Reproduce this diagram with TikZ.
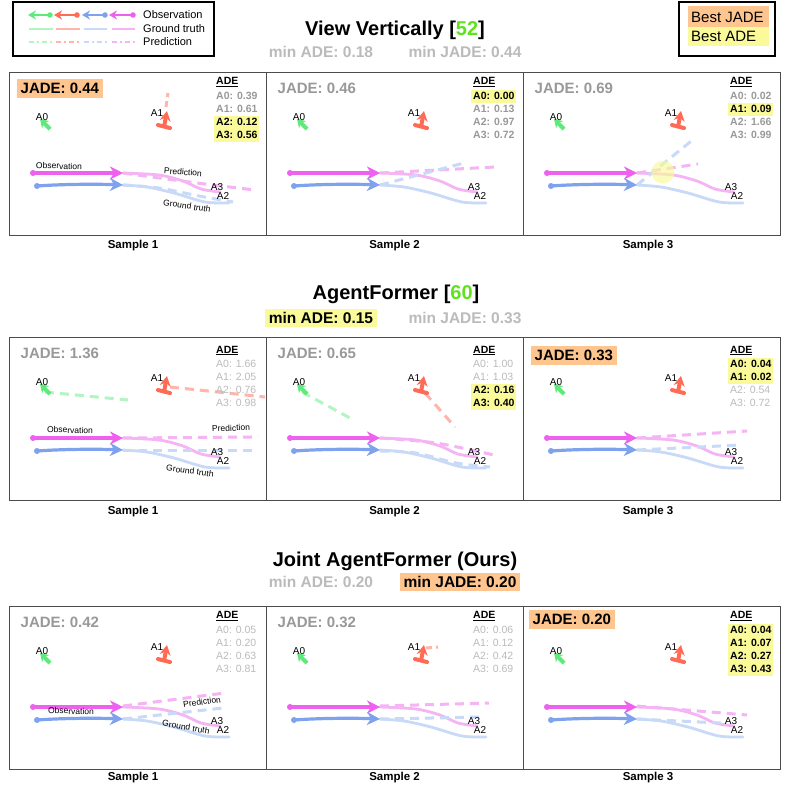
\documentclass[tikz,border=0pt]{standalone}
\usepackage{fontspec}
\setmainfont{Liberation Sans}
\usetikzlibrary{arrows.meta}
\definecolor{gObs}{HTML}{5EEA7A}
\definecolor{gLt}{HTML}{B3F5C0}
\definecolor{rObs}{HTML}{FF6B55}
\definecolor{rLt}{HTML}{FFB5AA}
\definecolor{bObs}{HTML}{7FA2EE}
\definecolor{bLt}{HTML}{C8DAF7}
\definecolor{mObs}{HTML}{EE60EE}
\definecolor{mLt}{HTML}{F5B5F5}
\definecolor{hlY}{HTML}{FAFA9A}
\definecolor{hlO}{HTML}{FFC58F}
\definecolor{txG}{HTML}{999999}
\definecolor{txL}{HTML}{BBBBBB}
\definecolor{numG}{HTML}{5EE31E}
\tikzset{
 frame/.style={draw=black!70, line width=1pt},
 obsline/.style={line width=3.2pt, -{Stealth[length=13pt,width=13pt,inset=4pt]}},
 gtline/.style={line width=2.8pt, line cap=round},
 prline/.style={line width=3pt, dash pattern=on 9pt off 6pt},
 jadebox/.style={anchor=west, font=\fontsize{15}{15}\selectfont\bfseries, inner xsep=3.5pt, inner ysep=2.5pt, minimum height=19pt},
 adetxt/.style={anchor=west, font=\fontsize{10.5}{10.5}\selectfont\bfseries, inner sep=0pt},
 adegray/.style={anchor=west, font=\fontsize{10.5}{10.5}\selectfont, inner sep=0pt},
 aglabel/.style={font=\fontsize{10}{10}\selectfont, inner sep=0pt},
 smalltxt/.style={font=\fontsize{8.5}{8.5}\selectfont, inner sep=0pt},
 samplelbl/.style={font=\fontsize{11.5}{11.5}\selectfont\bfseries},
 titletxt/.style={font=\fontsize{20}{20}\selectfont\bfseries},
 subtxt/.style={font=\fontsize{15.5}{15.5}\selectfont\bfseries, inner xsep=4pt, inner ysep=3pt},
 legtxt/.style={anchor=west, font=\fontsize{11}{11}\selectfont, inner sep=0pt},
 legobs/.style={line width=2.2pt, {Stealth[length=8pt,width=9pt]}-},
 leggt/.style={line width=2.2pt},
 legpr/.style={line width=2.2pt, dash pattern=on 5pt off 3pt on 2pt off 3pt},
}
% base panel: frame + ground truth
\newcommand\basepanel[1]{%
 \draw[frame] (0,0) rectangle (257,163);
 \draw[gtline, mLt] plot[smooth] coordinates {(114,101) (150,103) (174,109) (192,117) (211,120)};
 \draw[gtline, bLt] plot[smooth] coordinates {(114,113) (138,115) (165,121) (196,130) (220,131)};
}
% observations, agents and labels
\newcommand\obspanel[1]{%
 \draw[obsline, mObs] (24,101) -- (114,101);
 \fill[mObs] (24,101) circle (3);
 \draw[obsline, bObs] (28,114) .. controls (55,112) and (90,112) .. (114,113);
 \fill[bObs] (28,114) circle (3);
 \draw[line width=4pt, gObs, -{Stealth[length=8pt,width=10pt]}] (41,57) -- (31,47);
 \draw[line width=4pt, rObs, -{Stealth[length=10pt,width=11pt]}] (155,55) -- (158,39);
 \draw[line width=4pt, rObs, line cap=round] (149,53) -- (161,56);
 \node[aglabel] (#1-A0) at (33,45) {A0};
 \node[aglabel] (#1-A1) at (148,41) {A1};
 \node[aglabel] (#1-A3) at (208,115) {A3};
 \node[aglabel] (#1-A2) at (214,124) {A2};
}
\newcommand\adehead[2]{\node[adetxt] (#1-ade) at (207,#2) {\underline{ADE}};}
\newcommand\legarrow[3]{\draw[legobs, #1] (#2,15) -- (#3,15); \fill[#1] (#3,15) circle (2.8);}
\begin{document}
\begin{tikzpicture}[x=1pt,y=-1pt]
\useasboundingbox (0,0) rectangle (789,788);
\fill[white] (0,0) rectangle (789,788);
% ---------- legends ----------
\draw[line width=2.5pt] (13,2) rectangle (214,56);
\legarrow{gObs}{28}{50}
\legarrow{rObs}{54}{77}
\legarrow{bObs}{82}{105}
\legarrow{mObs}{109}{133}
\draw[leggt, gLt] (29,29) -- (53,29);
\draw[leggt, rLt] (56,29) -- (80,29);
\draw[leggt, bLt] (84,29) -- (107,29);
\draw[leggt, mLt] (112,29) -- (135,29);
\draw[legpr, gLt] (29,42) -- (53,42);
\draw[legpr, rLt] (56,42) -- (80,42);
\draw[legpr, bLt] (84,42) -- (107,42);
\draw[legpr, mLt] (112,42) -- (135,42);
\node[legtxt] (lobs) at (143,15) {Observation};
\node[legtxt] (lgt) at (143,29) {Ground truth};
\node[legtxt] (lpr) at (143,42) {Prediction};
\draw[line width=2.5pt] (679,2) rectangle (775,56);
\fill[hlO] (688,6) rectangle (769,27);
\fill[hlY] (688,27) rectangle (769,46);
\node[anchor=west, font=\fontsize{15}{15}\selectfont, inner sep=0pt] (lbj) at (691,17) {Best JADE};
\node[anchor=west, font=\fontsize{15}{15}\selectfont, inner sep=0pt] (lba) at (691,36.5) {Best ADE};
% ---------- titles ----------
\node[titletxt] (t1) at (395,30) {View Vertically [\textcolor{numG}{52}]};
\node[subtxt, txL] (t1a) at (321,52) {min ADE: 0.18};
\node[subtxt, txL] (t1b) at (465,52) {min JADE: 0.44};
\node[titletxt] (t2) at (396,294) {AgentFormer [\textcolor{numG}{60}]};
\node[subtxt, fill=hlY] (t2a) at (321,318) {min ADE: 0.15};
\node[subtxt, txL] (t2b) at (465,318) {min JADE: 0.33};
\node[titletxt] (t3) at (395,561) {Joint AgentFormer (Ours)};
\node[subtxt, txL] (t3a) at (321,582) {min ADE: 0.20};
\node[subtxt, fill=hlO] (t3b) at (460,582) {min JADE: 0.20};
% ================= ROW 1 =================
\begin{scope}[shift={(9,72)}]
 \basepanel{r1a}
 \draw[prline, mLt] plot[smooth] coordinates {(114,101) (188,111) (246,118)};
 \draw[prline, bLt] plot[smooth] coordinates {(114,113) (150,116) (190,124) (224,130)};
 \draw[prline, rLt, dash pattern=on 6pt off 4pt] (157,35) -- (159,21);
 \obspanel{r1a}
 \node[smalltxt, rotate=-2] (r1a-o) at (50,94) {Observation};
 \node[smalltxt, rotate=-4] (r1a-p) at (174,100) {Prediction};
 \node[smalltxt, rotate=-9] (r1a-g) at (178,134) {Ground truth};
 \node[jadebox, fill=hlO] (r1a-jade) at (8,16) {JADE: 0.44};
 \fill[hlY] (205,43.5) rectangle (250,69.5);
 \adehead{r1a}{10}
 \node[adetxt, txG] (r1a-0) at (207,24) {A0: 0.39};
 \node[adetxt, txG] (r1a-1) at (207,37) {A1: 0.61};
 \node[adetxt] (r1a-2) at (207,50) {A2: 0.12};
 \node[adetxt] (r1a-3) at (207,63) {A3: 0.56};
 \node[samplelbl] (r1a-s) at (124,174) {Sample 1};
\end{scope}
\begin{scope}[shift={(266,72)}]
 \basepanel{r1b}
 \draw[prline, mLt] (114,101) -- (229,95);
 \draw[prline, bLt] (114,113) -- (198,91);
 \obspanel{r1b}
 \node[jadebox, txG] (r1b-jade) at (8,16) {JADE: 0.46};
 \fill[hlY] (205,17.5) rectangle (250,30.5);
 \adehead{r1b}{10}
 \node[adetxt] (r1b-0) at (207,24) {A0: 0.00};
 \node[adetxt, txG] (r1b-1) at (207,37) {A1: 0.13};
 \node[adetxt, txG] (r1b-2) at (207,50) {A2: 0.97};
 \node[adetxt, txG] (r1b-3) at (207,63) {A3: 0.72};
 \node[samplelbl] (r1b-s) at (128.5,174) {Sample 2};
\end{scope}
\begin{scope}[shift={(523,72)}]
 \basepanel{r1c}
 \draw[prline, mLt] (114,101) -- (175,92);
 \draw[prline, bLt] (114,113) -- (172,66);
 \fill[hlY, opacity=0.65] (140,100) circle (11.5);
 \obspanel{r1c}
 \node[jadebox, txG] (r1c-jade) at (8,16) {JADE: 0.69};
 \fill[hlY] (205,30.5) rectangle (250,43.5);
 \adehead{r1c}{10}
 \node[adetxt, txG] (r1c-0) at (207,24) {A0: 0.02};
 \node[adetxt] (r1c-1) at (207,37) {A1: 0.09};
 \node[adetxt, txG] (r1c-2) at (207,50) {A2: 1.66};
 \node[adetxt, txG] (r1c-3) at (207,63) {A3: 0.99};
 \node[samplelbl] (r1c-s) at (125,174) {Sample 3};
\end{scope}
% ================= ROW 2 =================
\begin{scope}[shift={(9,337)}]
 \basepanel{r2a}
 \draw[prline, gLt] (36,55) -- (119,63);
 \draw[prline, rLt] (161,50) -- (256,60);
 \draw[prline, mLt] (114,101) -- (249,100);
 \draw[prline, bLt] (114,113) -- (246,113);
 \obspanel{r2a}
 \node[smalltxt, rotate=-1] (r2a-o) at (61,93) {Observation};
 \node[smalltxt, rotate=2] (r2a-p) at (222,91) {Prediction};
 \node[smalltxt, rotate=-8] (r2a-g) at (181,134) {Ground truth};
 \node[jadebox, txG] (r2a-jade) at (8,16) {JADE: 1.36};
 \adehead{r2a}{13.5}
 \node[adegray, txL] (r2a-0) at (207,27) {A0: 1.66};
 \node[adegray, txL] (r2a-1) at (207,40) {A1: 2.05};
 \node[adegray, txL] (r2a-2) at (207,53) {A2: 0.76};
 \node[adegray, txL] (r2a-3) at (207,66) {A3: 0.98};
 \node[samplelbl] (r2a-s) at (124,175) {Sample 1};
\end{scope}
\begin{scope}[shift={(266,337)}]
 \basepanel{r2b}
 \draw[prline, gLt] (36,55) -- (84,81);
 \draw[prline, rLt] (159,56) -- (189,90);
 \draw[prline, mLt] plot[smooth] coordinates {(114,101) (170,106) (228,118)};
 \draw[prline, bLt] plot[smooth] coordinates {(114,114) (150,116) (190,126) (224,130)};
 \obspanel{r2b}
 \node[jadebox, txG] (r2b-jade) at (8,16) {JADE: 0.65};
 \fill[hlY] (205,46.5) rectangle (250,72.5);
 \adehead{r2b}{13.5}
 \node[adegray, txL] (r2b-0) at (207,27) {A0: 1.00};
 \node[adegray, txL] (r2b-1) at (207,40) {A1: 1.03};
 \node[adetxt] (r2b-2) at (207,53) {A2: 0.16};
 \node[adetxt] (r2b-3) at (207,66) {A3: 0.40};
 \node[samplelbl] (r2b-s) at (128.5,175) {Sample 2};
\end{scope}
\begin{scope}[shift={(523,337)}]
 \basepanel{r2c}
 \draw[prline, mLt] (114,101) -- (224,94);
 \draw[prline, bLt] (114,113) -- (217,108);
 \obspanel{r2c}
 \node[jadebox, fill=hlO] (r2c-jade) at (8,18) {JADE: 0.33};
 \fill[hlY] (205,20.5) rectangle (250,46.5);
 \adehead{r2c}{13.5}
 \node[adetxt] (r2c-0) at (207,27) {A0: 0.04};
 \node[adetxt] (r2c-1) at (207,40) {A1: 0.02};
 \node[adegray, txL] (r2c-2) at (207,53) {A2: 0.54};
 \node[adegray, txL] (r2c-3) at (207,66) {A3: 0.72};
 \node[samplelbl] (r2c-s) at (125,175) {Sample 3};
\end{scope}
% ================= ROW 3 =================
\begin{scope}[shift={(9,606)}]
 \basepanel{r3a}
 \draw[prline, mLt] (114,100) -- (216,87);
 \draw[prline, bLt] (114,113) -- (214,102);
 \obspanel{r3a}
 \node[smalltxt, rotate=-1] (r3a-o) at (62,105) {Observation};
 \node[smalltxt, rotate=8] (r3a-p) at (193,96) {Prediction};
 \node[smalltxt, rotate=-10] (r3a-g) at (177,121) {Ground truth};
 \node[jadebox, txG] (r3a-jade) at (8,16) {JADE: 0.42};
 \adehead{r3a}{10}
 \node[adegray, txL] (r3a-0) at (207,24) {A0: 0.05};
 \node[adegray, txL] (r3a-1) at (207,37) {A1: 0.20};
 \node[adegray, txL] (r3a-2) at (207,50) {A2: 0.63};
 \node[adegray, txL] (r3a-3) at (207,63) {A3: 0.81};
 \node[samplelbl] (r3a-s) at (124,172) {Sample 1};
\end{scope}
\begin{scope}[shift={(266,606)}]
 \basepanel{r3b}
 \draw[prline, rLt, dash pattern=on 6pt off 4pt] (160,42) -- (172,41);
 \draw[prline, mLt] (114,100) -- (223,97);
 \draw[prline, bLt] (114,113) -- (216,111);
 \obspanel{r3b}
 \node[jadebox, txG] (r3b-jade) at (8,16) {JADE: 0.32};
 \adehead{r3b}{10}
 \node[adegray, txL] (r3b-0) at (207,24) {A0: 0.06};
 \node[adegray, txL] (r3b-1) at (207,37) {A1: 0.12};
 \node[adegray, txL] (r3b-2) at (207,50) {A2: 0.42};
 \node[adegray, txL] (r3b-3) at (207,63) {A3: 0.69};
 \node[samplelbl] (r3b-s) at (128.5,172) {Sample 2};
\end{scope}
\begin{scope}[shift={(523,606)}]
 \basepanel{r3c}
 \draw[prline, mLt] (114,100) -- (224,109);
 \draw[prline, bLt] (114,113) -- (198,117);
 \obspanel{r3c}
 \node[jadebox, fill=hlO] (r3c-jade) at (6,13) {JADE: 0.20};
 \fill[hlY] (205,17.5) rectangle (250,69.5);
 \adehead{r3c}{10}
 \node[adetxt] (r3c-0) at (207,24) {A0: 0.04};
 \node[adetxt] (r3c-1) at (207,37) {A1: 0.07};
 \node[adetxt] (r3c-2) at (207,50) {A2: 0.27};
 \node[adetxt] (r3c-3) at (207,63) {A3: 0.43};
 \node[samplelbl] (r3c-s) at (125,172) {Sample 3};
\end{scope}
\end{tikzpicture}
\end{document}
